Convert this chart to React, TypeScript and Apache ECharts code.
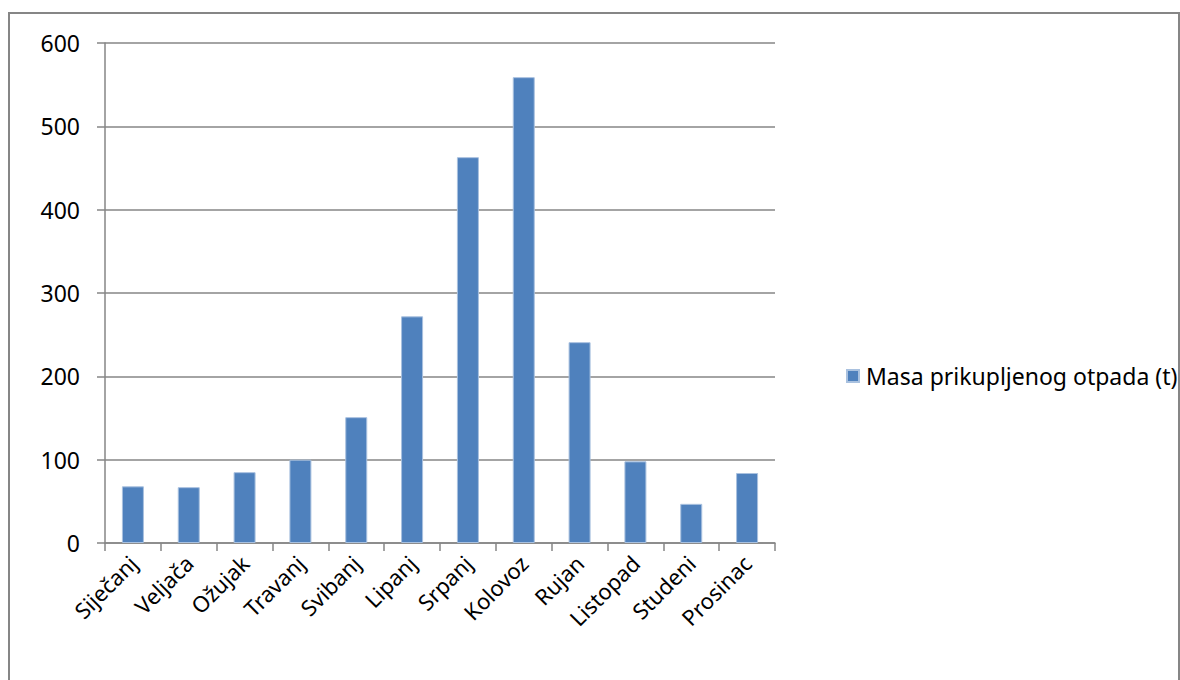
import React, { useEffect, useRef } from "react";
import * as echarts from "echarts";

const categories = [
  "Siječanj",
  "Veljača",
  "Ožujak",
  "Travanj",
  "Svibanj",
  "Lipanj",
  "Srpanj",
  "Kolovoz",
  "Rujan",
  "Listopad",
  "Studeni",
  "Prosinac",
];
const seriesName = "Masa prikupljenog otpada (t)";
const values = [68, 67, 85, 100, 151, 272, 463, 559, 241, 98, 47, 84];

const FONT = "Noto Sans";
const GRAY = "#868686";

export default function App() {
  const ref = useRef<HTMLDivElement>(null);
  useEffect(() => {
    if (!ref.current) return;
    const chart = echarts.init(ref.current, null, { renderer: "svg" });
    chart.setOption({
      animation: false,
      backgroundColor: "#ffffff",
      textStyle: { fontFamily: FONT },
      graphic: [
        {
          type: "rect",
          shape: { x: 9, y: 13, width: 1170, height: 700 },
          style: { fill: "none", stroke: GRAY, lineWidth: 2 },
          silent: true,
        },
      ],
      grid: { left: 105, right: 405, top: 43, bottom: 137, containLabel: false },
      legend: {
        left: 846,
        top: 364,
        padding: 0,
        itemWidth: 12,
        itemHeight: 12,
        itemGap: 10,
        icon: "rect",
        textStyle: { fontFamily: FONT, fontSize: 23, color: "#000", padding: [0, 0, 0, 2], lineHeight: 24 },
        data: [seriesName],
      },
      xAxis: {
        type: "category",
        data: categories,
        axisLine: { show: true, lineStyle: { color: GRAY, width: 1.5 } },
        axisTick: { show: true, length: 8, lineStyle: { color: GRAY, width: 1.5 } },
        axisLabel: {
          rotate: 45,
          interval: 0,
          margin: 16,
          fontFamily: FONT,
          fontSize: 22,
          color: "#000",
        },
      },
      yAxis: {
        type: "value",
        min: 0,
        max: 600,
        interval: 100,
        axisLine: { show: true, lineStyle: { color: GRAY, width: 1.5 } },
        axisTick: { show: true, length: 8, lineStyle: { color: GRAY, width: 1.5 } },
        axisLabel: { margin: 25, fontFamily: FONT, fontSize: 23, color: "#000" },
        splitLine: { show: true, lineStyle: { color: GRAY, width: 1.5 } },
      },
      series: [
        {
          name: seriesName,
          type: "bar",
          data: values,
          barWidth: 22,
          itemStyle: { color: "#4F81BD", borderColor: "#a9c1df", borderWidth: 1 },
        },
      ],
    });
    return () => chart.dispose();
  }, []);
  return (
    <div
      ref={ref}
      style={{ position: "fixed", left: 0, top: 0, width: 1180, height: 680 }}
    />
  );
}
